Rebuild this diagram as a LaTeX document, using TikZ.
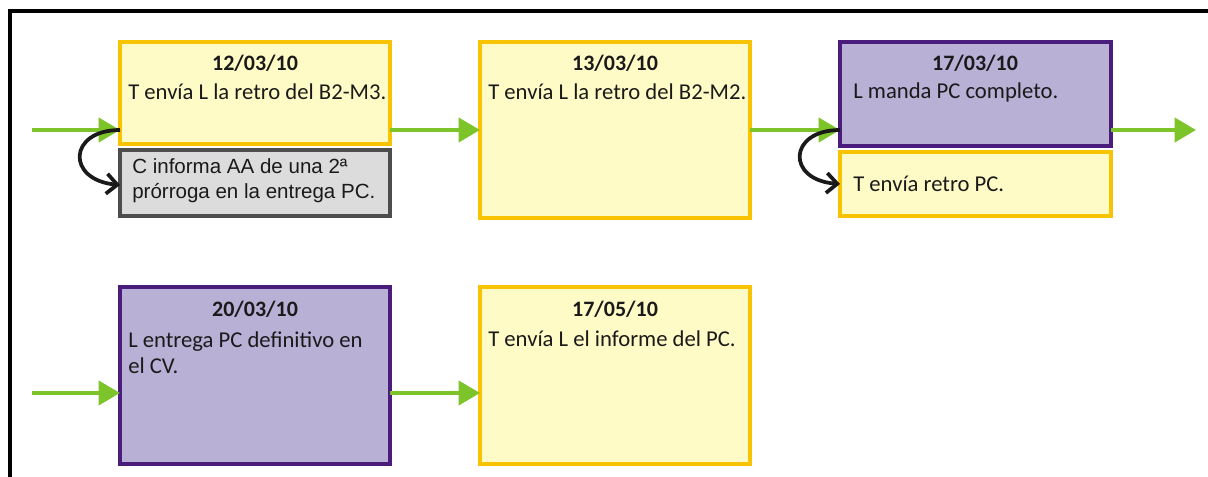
\documentclass[tikz,border=0pt]{standalone}
\usepackage{fontspec}
\setmainfont{Carlito}
\newfontfamily\arialfont{Liberation Sans}
\usetikzlibrary{arrows.meta}
\definecolor{goldline}{HTML}{F8C300}
\definecolor{paleyellow}{HTML}{FFFBC6}
\definecolor{purpleline}{HTML}{4A1C7C}
\definecolor{lavender}{HTML}{B8B0D5}
\definecolor{greyline}{HTML}{4D4D4D}
\definecolor{greyfill}{HTML}{DCDCDC}
\definecolor{flowgreen}{HTML}{7DC42A}
\definecolor{ink}{HTML}{1A1A1A}
\tikzset{
  yellowbox/.style={draw=goldline, fill=paleyellow, line width=3pt},
  purplebox/.style={draw=purpleline, fill=lavender, line width=3pt},
  greybox/.style={draw=greyline, fill=greyfill, line width=3pt},
  datelabel/.style={font=\fontsize{16.5}{18}\selectfont\bfseries, text=ink, inner sep=0pt},
  bodytext/.style={font=\fontsize{17}{19.5}\selectfont, text=ink, inner sep=0pt, anchor=west, align=left},
  arialtext/.style={font=\arialfont\fontsize{15.4}{18.8}\selectfont, text=ink, inner sep=0pt, anchor=west, align=left},
  flow/.style={draw=flowgreen, line width=3pt, -{Triangle[length=16pt, width=18pt]}},
  side/.style={draw=ink, line width=2.8pt, -{Straight Barb[length=8pt, width=15pt, line width=2.8pt]}},
}
\begin{document}
\begin{tikzpicture}[x=0.75pt, y=-0.75pt]
\useasboundingbox (0,0) rectangle (1208,477);
% outer frame (top and left edges)
\draw[line width=2.6pt, black] (10,477) -- (10,11) -- (1208,11);

% event boxes, first row
\path[yellowbox] (120,42) rectangle (390,144);
\coordinate (b1w) at (120,130);
\coordinate (b1e) at (390,130);
\node[datelabel] (d1) at (255,63) {12/03/10};
\node[bodytext] (t1) at (128,92) {T envía L la retro del B2-M3.};

\path[greybox] (120,150) rectangle (390,216);
\coordinate (g1w) at (120,185);
\node[arialtext] (t1b) at (132,181) {C informa AA de una 2ª\\prórroga en la entrega PC.};

\path[yellowbox] (480,42) rectangle (750,218);
\coordinate (b2w) at (480,130);
\coordinate (b2e) at (750,130);
\node[datelabel] (d2) at (615,63) {13/03/10};
\node[bodytext] (t2) at (488,92) {T envía L la retro del B2-M2.};

\path[purplebox] (840,42) rectangle (1111,146);
\coordinate (b3w) at (840,130);
\coordinate (b3e) at (1111,130);
\node[datelabel] (d3) at (975,63) {17/03/10};
\node[bodytext] (t3) at (853,92) {L manda PC completo.};

\path[yellowbox] (840,152) rectangle (1111,216);
\coordinate (y3w) at (840,184);
\node[bodytext] (t3b) at (853,184) {T envía retro PC.};

\coordinate (end1) at (1196,130);
\coordinate (start1) at (32,130);

% event boxes, second row
\path[purplebox] (120,287) rectangle (390,464);
\coordinate (b4w) at (120,393);
\coordinate (b4e) at (390,393);
\node[datelabel] (d4) at (255,309) {20/03/10};
\node[bodytext] (t4) at (128,353) {L entrega PC definitivo en\\el CV.};

\path[yellowbox] (480,287) rectangle (750,464);
\coordinate (b5w) at (480,393);
\node[datelabel] (d5) at (615,309) {17/05/10};
\node[bodytext] (t5) at (488,339) {T envía L el informe del PC.};

\coordinate (start2) at (32,393);

% green flow arrows
\draw[flow] (start1) -- (b1w);
\draw[flow] (b1e) -- (b2w);
\draw[flow] (b2e) -- (b3w);
\draw[flow] (b3e) -- (end1);
\draw[flow] (start2) -- (b4w);
\draw[flow] (b4e) -- (b5w);

% side-branch arrows
\draw[side] (b1w) .. controls (68,130) and (66,180) .. (g1w);
\draw[side] (b3w) .. controls (788,130) and (786,180) .. (y3w);
\end{tikzpicture}
\end{document}
